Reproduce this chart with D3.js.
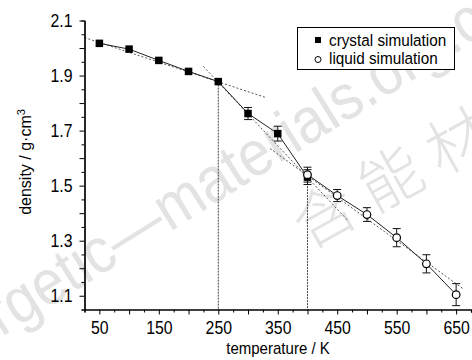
<!DOCTYPE html>
<html>
<head>
<meta charset="utf-8">
<script src="https://cdn.jsdelivr.net/npm/d3@7"></script>
<style>
body { margin: 0; background: #fff; }
svg { display: block; font-family: "Liberation Sans", Arial, sans-serif; }
</style>
</head>
<body>
<svg width="472" height="360"></svg>
<script>
// data
var crystalT = [50, 100, 150, 200, 250, 300, 350, 400];
var crystalD = [2.017, 1.996, 1.955, 1.915, 1.878, 1.762, 1.689, 1.531];
var crystalErr = [0, 0, 0, 0, 0, 0.022, 0.027, 0.027];

var liquidT = [400, 450, 500, 550, 600, 650];
var liquidD = [1.540, 1.464, 1.395, 1.311, 1.216, 1.104];
var liquidErr = [0.027, 0.022, 0.025, 0.033, 0.033, 0.040];

// dotted fit lines (end points)
var fitLowT = [25, 330];
var fitLowD = [2.038, 1.820];
var fitHighT = [225, 468];
var fitHighD = [1.933, 1.373];
var fitLiqT = [337, 662];
var fitLiqD = [1.635, 1.125];

// transition temperatures (vertical dotted lines)
var transT = [250, 400];
var transD = [1.878, 1.531];

var xLabels = [50, 150, 250, 350, 450, 550, 650];
var yLabels = [1.1, 1.3, 1.5, 1.7, 1.9, 2.1];
var legendNames = ['crystal simulation', 'liquid simulation'];

var svg = d3.select('svg');

var x = d3.scaleLinear().domain([25, 675]).range([84.5, 471]);
var y = d3.scaleLinear().domain([1.05, 2.1]).range([309.5, 20.5]);

function zip(a, b) {
    return a.map(function(v, i) { return [v, b[i]]; });
}

// watermark
var wm = svg.append('g').attr('id', 'watermark').style('fill', '#e3e3e3');
wm.append('text')
    .attr('transform', 'translate(-80,388) rotate(-32) scale(0.9,1)')
    .style('font-size', '64px')
    .text('energetic\u2014materials.org.cn');
wm.append('text')
    .attr('transform', 'translate(308,250) rotate(-29)')
    .style('font-family', '"Noto Sans CJK SC", sans-serif')
    .style('font-weight', 300)
    .style('font-size', '62px')
    .style('letter-spacing', '14px')
    .text('含能材料');

var line = d3.line()
    .x(function(d) { return x(d[0]); })
    .y(function(d) { return y(d[1]); });

// fit lines
var fits = svg.append('g').attr('id', 'fits');
[zip(fitLowT, fitLowD), zip(fitHighT, fitHighD), zip(fitLiqT, fitLiqD)].forEach(function(f) {
    fits.append('path')
        .attr('d', line(f))
        .attr('fill', 'none')
        .attr('stroke', '#555')
        .attr('stroke-width', 1)
        .attr('stroke-dasharray', '2,2');
});

// vertical drops
svg.append('g').selectAll('line')
    .data(zip(transT, transD))
    .enter()
    .append('line')
    .attr('x1', function(d) { return x(d[0]); })
    .attr('x2', function(d) { return x(d[0]); })
    .attr('y1', function(d) { return y(d[1]); })
    .attr('y2', y(1.05))
    .attr('stroke', '#444')
    .attr('stroke-width', 1)
    .attr('stroke-dasharray', '2,1');

var crystal = zip(crystalT, crystalD);
var liquid = zip(liquidT, liquidD);

// connecting lines
[crystal, liquid].forEach(function(s) {
    svg.append('path')
        .attr('d', line(s))
        .attr('fill', 'none')
        .attr('stroke', '#222')
        .attr('stroke-width', 1);
});

// error bars
function errorBars(T, D, E) {
    var g = svg.append('g').attr('stroke', '#111').attr('stroke-width', 1);
    T.forEach(function(t, i) {
        if (!E[i]) return;
        var cx = x(t), y0 = y(D[i] - E[i]), y1 = y(D[i] + E[i]);
        g.append('line').attr('x1', cx).attr('x2', cx).attr('y1', y0).attr('y2', y1);
        g.append('line').attr('x1', cx - 4).attr('x2', cx + 4).attr('y1', y0).attr('y2', y0);
        g.append('line').attr('x1', cx - 4).attr('x2', cx + 4).attr('y1', y1).attr('y2', y1);
    });
}
errorBars(crystalT, crystalD, crystalErr);
errorBars(liquidT, liquidD, liquidErr);

// markers
svg.append('g').selectAll('rect')
    .data(crystal)
    .enter()
    .append('rect')
    .attr('x', function(d) { return x(d[0]) - 3.75; })
    .attr('y', function(d) { return y(d[1]) - 3.75; })
    .attr('width', 7.5)
    .attr('height', 7.5)
    .attr('fill', '#000');

svg.append('g').selectAll('circle')
    .data(liquid)
    .enter()
    .append('circle')
    .attr('cx', function(d) { return x(d[0]); })
    .attr('cy', function(d) { return y(d[1]); })
    .attr('r', 3.8)
    .attr('fill', '#fff')
    .attr('stroke', '#000')
    .attr('stroke-width', 1.2);

// axes
var xMinor = d3.range(25, 676, 50);
var xMajor = d3.range(50, 651, 50);
var yMinor = d3.range(105, 211, 10).map(function(v) { return v / 100; });
var yMajor = d3.range(11, 22, 1).map(function(v) { return v / 10; });

var gx = svg.append('g').attr('transform', 'translate(0,' + y(1.05) + ')');
gx.append('g').call(d3.axisBottom(x).tickValues(xMinor).tickSize(3).tickFormat(''));
gx.append('g').call(d3.axisBottom(x).tickValues(xMajor).tickSize(5).tickSizeOuter(0).tickPadding(7)
    .tickFormat(function(d) { return xLabels.indexOf(d) >= 0 ? d : ''; }));

var gy = svg.append('g').attr('transform', 'translate(' + x(25) + ',0)');
gy.append('g').call(d3.axisLeft(y).tickValues(yMinor).tickSize(3).tickFormat(''));
gy.append('g').call(d3.axisLeft(y).tickValues(yMajor).tickSize(5).tickSizeOuter(0).tickPadding(7)
    .tickFormat(function(d) {
        return yLabels.some(function(v) { return Math.abs(v - d) < 1e-6; }) ? d3.format('.1f')(d) : '';
    }));

svg.selectAll('.domain').attr('stroke', '#000').attr('stroke-width', 1.2);
svg.selectAll('.tick line').attr('stroke', '#000');
gx.selectAll('text')
    .style('font-size', '18px')
    .attr('fill', '#000')
    .attr('transform', 'scale(0.88,1)');
gy.selectAll('text')
    .style('font-size', '18px')
    .attr('fill', '#000')
    .attr('x', -12 / 0.88)
    .attr('transform', 'scale(0.88,1)');

// axis titles
svg.append('text')
    .attr('transform', 'translate(278,354) scale(0.94,1)')
    .attr('text-anchor', 'middle')
    .style('font-size', '16px')
    .text('temperature / K');

var yt = svg.append('text')
    .attr('transform', 'translate(31,162) rotate(-90)')
    .attr('text-anchor', 'middle')
    .style('font-size', '16px');
yt.append('tspan').text('density / g\u00b7cm');
yt.append('tspan').attr('dy', -6).style('font-size', '11px').text('3');

// legend
var legend = svg.append('g').attr('id', 'legend');
legend.append('rect')
    .attr('x', 297.5).attr('y', 27.5)
    .attr('width', 157).attr('height', 42)
    .attr('fill', '#fff')
    .attr('stroke', '#000')
    .attr('stroke-width', 1);
legend.append('rect')
    .attr('x', 315).attr('y', 37)
    .attr('width', 6).attr('height', 6)
    .attr('fill', '#000');
legend.append('circle')
    .attr('cx', 318).attr('cy', 59.5).attr('r', 3)
    .attr('fill', '#fff').attr('stroke', '#000').attr('stroke-width', 1);
legend.selectAll('text.name')
    .data(legendNames)
    .enter()
    .append('text')
    .attr('class', 'name')
    .attr('transform', function(d, i) { return 'translate(329,' + (45.5 + i * 18.5) + ') scale(0.9,1)'; })
    .style('font-size', '17px')
    .text(function(d) { return d; });
</script>
</body>
</html>
